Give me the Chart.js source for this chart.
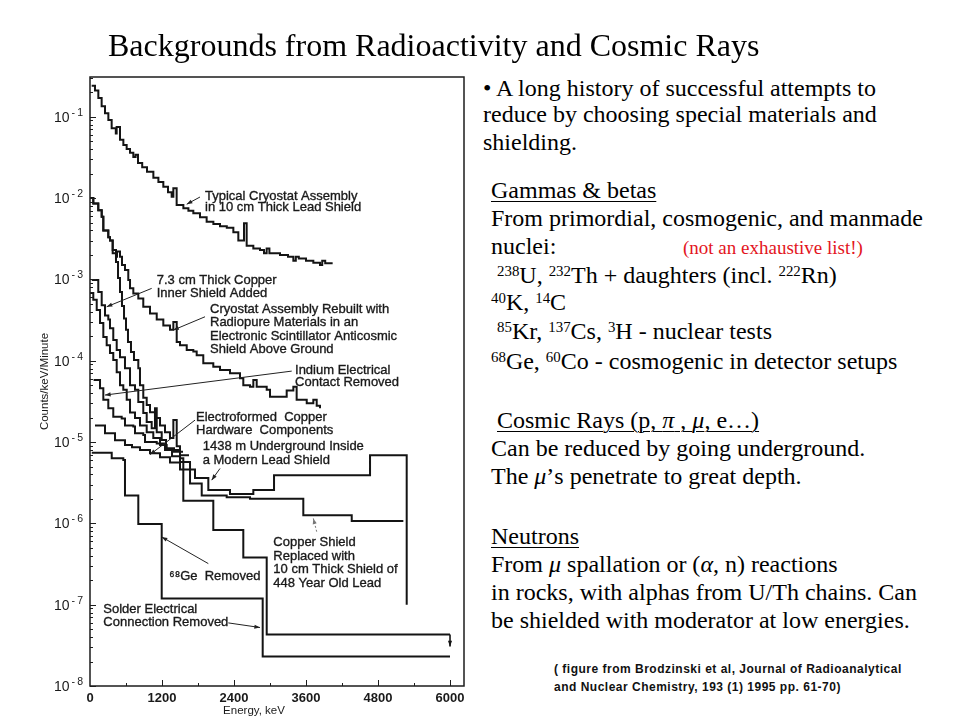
<!DOCTYPE html>
<html>
<head>
<meta charset="utf-8">
<script src="https://cdn.jsdelivr.net/npm/chart.js@4.4.0/dist/chart.umd.min.js"></script>
<style>
body{margin:0;width:960px;height:720px;background:#fff;position:relative;overflow:hidden;color:#000;font-family:"Liberation Serif","Times New Roman",serif}
#chartBox{position:absolute;left:0;top:0;width:475px;height:720px}
.ln{position:absolute;white-space:nowrap;font-size:24px;line-height:28px}
.title{font-size:32px;line-height:38px}
.red{color:#e3151d;font-size:19px}
.u{text-decoration:underline;text-decoration-thickness:1px;text-underline-offset:3px}
sup{font-size:62%;position:relative;top:-0.45em;vertical-align:baseline;line-height:0}
.cite{position:absolute;white-space:nowrap;font-family:"Liberation Sans",Arial,sans-serif;font-weight:bold;font-size:12px;letter-spacing:0.5px;line-height:18px;color:#111}
</style>
</head>
<body>
<div id="chartBox"><canvas id="spectra"></canvas></div>

<div class="ln title" style="left:108px;top:26px">Backgrounds from Radioactivity and Cosmic Rays</div>

<div class="ln" style="left:483px;top:74px">• A long history of successful attempts to</div>
<div class="ln" style="left:483px;top:100px">reduce by choosing special materials and</div>
<div class="ln" style="left:483px;top:128px">shielding.</div>

<div class="ln u" style="left:491px;top:176px">Gammas &amp; betas</div>
<div class="ln" style="left:491px;top:204px">From primordial, cosmogenic, and manmade</div>
<div class="ln" style="left:491px;top:232px">nuclei:</div>
<div class="ln red" style="left:683px;top:234px">(not an exhaustive list!)</div>
<div class="ln" style="left:491px;top:261px">&nbsp;<sup>238</sup>U, <sup>232</sup>Th + daughters (incl. <sup>222</sup>Rn)</div>
<div class="ln" style="left:491px;top:288px"><sup>40</sup>K, <sup>14</sup>C</div>
<div class="ln" style="left:491px;top:317px">&nbsp;<sup>85</sup>Kr, <sup>137</sup>Cs, <sup>3</sup>H - nuclear tests</div>
<div class="ln" style="left:491px;top:347px"><sup>68</sup>Ge, <sup>60</sup>Co - cosmogenic in detector setups</div>

<div class="ln" style="left:491px;top:406px">&nbsp;<span class="u">Cosmic Rays (p, <i>π</i> , <i>μ</i>, e…)</span></div>
<div class="ln" style="left:491px;top:434px">Can be reduced by going underground.</div>
<div class="ln" style="left:491px;top:462px">The <i>μ</i>’s penetrate to great depth.</div>

<div class="ln u" style="left:491px;top:522px">Neutrons</div>
<div class="ln" style="left:491px;top:550px">From <i>μ</i> spallation or (<i>α</i>, n) reactions</div>
<div class="ln" style="left:491px;top:578px">in rocks, with alphas from U/Th chains. Can</div>
<div class="ln" style="left:491px;top:606px">be shielded with moderator at low energies.</div>

<div class="cite" style="left:554px;top:660px">( figure from Brodzinski et al, Journal of Radioanalytical</div>
<div class="cite" style="left:554px;top:678px">and Nuclear Chemistry, 193 (1) 1995 pp. 61-70)</div>

<script>
// spectra: bin start energy (keV) and counts/keV/minute

const typicalEnergy = [28, 83, 139, 194, 250, 306, 361, 430, 444, 500, 556, 611, 667, 722, 760, 800, 870, 950, 1056, 1140,
	1222, 1300, 1361, 1389, 1444, 1556, 1640, 1722, 1833, 1944, 2056, 2167, 2280, 2389, 2472, 2567, 2611, 2722, 2833, 2900,
	2944, 2990, 3167, 3300, 3389, 3430, 3480, 3600, 3722, 3833, 3870, 3920, 4044];
const typicalCounts = [0.24, 0.21, 0.17, 0.135, 0.11, 0.091, 0.072, 0.062, 0.075, 0.052, 0.045, 0.040, 0.036, 0.032, 0.034, 0.027, 0.024, 0.021, 0.0178, 0.0158,
	0.0138, 0.0118, 0.0104, 0.0132, 0.0082, 0.0075, 0.0070, 0.0065, 0.0058, 0.0051, 0.0048, 0.0045, 0.0043, 0.0038, 0.0030, 0.0049, 0.0026, 0.0024, 0.0023, 0.0021,
	0.0024, 0.0021, 0.0020, 0.0019, 0.0017, 0.0019, 0.0018, 0.0017, 0.0016, 0.0015, 0.0017, 0.00158, 0.00158];

const rebuiltEnergy = [0, 55, 138, 195, 222, 305, 333, 378, 433, 450, 500, 533, 583, 638, 667, 722, 805, 888, 1000, 1112,
	1222, 1333, 1389, 1445, 1500, 1612, 1722, 1778, 1888, 2055, 2167, 2333, 2500, 2555, 2667, 2722, 2778, 2945, 3000, 3167,
	3278, 3389, 3444, 3612, 3722, 3778, 3833];
const rebuiltCounts = [1.0e-2, 8.6e-3, 7.1e-3, 5.9e-3, 4.0e-3, 3.3e-3, 3.0e-3, 2.3e-3, 1.9e-3, 2.2e-3, 1.9e-3, 1.5e-3, 1.3e-3, 9.8e-4, 7.8e-4, 6.7e-4, 5.8e-4, 4.6e-4, 3.8e-4, 3.2e-4,
	2.7e-4, 2.4e-4, 3.0e-4, 1.7e-4, 1.55e-4, 1.35e-4, 1.3e-4, 1.17e-4, 9.3e-5, 8.4e-5, 7.7e-5, 7.0e-5, 6.1e-5, 5.0e-5, 4.8e-5, 5.8e-5, 4.8e-5, 4.4e-5, 3.6e-5, 3.6e-5,
	4.3e-5, 4.8e-5, 3.3e-5, 3.0e-5, 3.3e-5, 2.8e-5, 2.6e-5];

// steep one, ends with the upper limit arrow at 6000 keV
const limitEnergy = [0, 55, 138, 195, 222, 305, 333, 378, 433, 467, 500, 533, 567, 600, 633, 683, 733, 805, 833, 888,
	945, 1000, 1083, 1167, 1250, 1333, 1389, 1445, 1500, 1555, 2055, 2555, 2945, 6000];
const limitCounts = [1.0e-2, 8.6e-3, 7.1e-3, 5.9e-3, 4.0e-3, 3.3e-3, 3.0e-3, 2.1e-3, 1.63e-3, 1.04e-3, 7.0e-4, 4.7e-4, 3.3e-4, 2.4e-4, 1.7e-4, 1.28e-4, 1.02e-4, 8.1e-5, 5.0e-5, 3.5e-5,
	2.85e-5, 2.33e-5, 1.97e-5, 1.6e-5, 1.32e-5, 1.12e-5, 1.86e-5, 8.9e-6, 6.3e-6, 1.9e-6, 8.3e-7, 3.8e-7, 4.3e-8, 4.3e-8];

const oldLeadEnergy = [30, 138, 195, 250, 305, 333, 388, 445, 500, 583, 667, 750, 805, 888, 945, 1028, 1083, 1112, 1195, 1267,
	1367, 1500, 1667, 1862, 2278, 2667, 3555, 4362, 5222];
const oldLeadCounts = [9.8e-4, 7.0e-4, 4.8e-4, 3.6e-4, 3.2e-4, 2.5e-4, 1.8e-4, 1.35e-4, 1.1e-4, 8.1e-5, 5.0e-5, 4.4e-5, 3.1e-5, 2.27e-5, 1.76e-5, 1.48e-5, 2.6e-5, 1.32e-5, 1.06e-5, 8.0e-6,
	6.7e-6, 5.7e-6, 3.1e-6, 2.2e-6, 2.1e-6, 2.0e-6, 1.26e-6, 1.07e-6, 1.07e-6];

const copperEnergy = [0, 55, 112, 167, 222, 278, 333, 388, 445, 500, 555, 612, 667, 750, 833, 945, 1055, 1167, 1278, 1400, 1550];
const copperCounts = [6.8e-4, 5.6e-4, 4.2e-4, 2.9e-4, 1.95e-4, 1.55e-4, 1.24e-4, 1.02e-4, 7.2e-5, 5.0e-5, 4.4e-5, 3.3e-5, 2.3e-5, 1.97e-5, 1.6e-5, 1.32e-5, 1.12e-5, 9.2e-6, 8.4e-6, 7.6e-6, 7.6e-6];

const indiumEnergy = [60, 167, 222, 305, 388, 528, 583, 722, 750, 888, 917, 1112, 1250, 1500, 1650];
const indiumCounts = [5.8e-5, 4.6e-5, 3.3e-5, 2.6e-5, 2.04e-5, 1.95e-5, 1.6e-5, 1.55e-5, 1.28e-5, 1.22e-5, 1.0e-5, 9.6e-6, 8.0e-6, 6.9e-6, 6.9e-6];

const undergroundEnergy = [83, 250, 417, 583, 700, 833, 1000, 1167, 1333, 1500, 1750, 1972, 2333, 2722, 3067, 4667, 5278];
const undergroundCounts = [1.6e-5, 1.28e-5, 1.05e-5, 9.2e-6, 8.6e-6, 8.0e-6, 7.3e-6, 6.5e-6, 5.6e-6, 4.6e-6, 3.6e-6, 2.57e-6, 2.3e-6, 2.57e-6, 3.9e-6, 6.9e-6, 1.0e-7];

const germaniumEnergy = [30, 362, 555, 583, 805, 1195, 2878, 6000];
const germaniumCounts = [7.4e-6, 6.3e-6, 6.0e-6, 2.2e-6, 9.8e-7, 1.19e-7, 2.3e-8, 2.3e-8];

const energyTicks = [0, 1200, 2400, 3600, 4800, 6000];
const decadeExponents = [-8, -7, -6, -5, -4, -3, -2, -1];

// labels on the plot, placed in keV / counts
const notes = [
	{text: ['Typical Cryostat Assembly', 'in 10 cm Thick Lead Shield'], at: [1917, 1.06e-2], from: [1833, 1.03e-2], to: [1612, 8.4e-3], lh: 11.5},
	{text: ['7.3 cm Thick Copper', 'Inner Shield Added'], at: [1112, 9.6e-4], from: [1028, 7.75e-4], to: [278, 4.6e-4], lh: 12.7},
	{text: ['Cryostat Assembly Rebuilt with', 'Radiopure Materials in an', 'Electronic Scintillator Anticosmic', 'Shield Above Ground'], at: [2000, 4.28e-4], from: [1917, 3.47e-4], to: [1388, 2.38e-4], lh: 13.3},
	{text: ['Indium Electrical', 'Contact Removed'], at: [3417, 7.66e-5], from: [3362, 7.45e-5], to: [250, 3.78e-5], lh: 12.7},
	{text: ['Electroformed  Copper', 'Hardware  Components'], at: [1767, 1.99e-5], from: [1750, 1.86e-5], to: [1000, 7.0e-6], lh: 13},
	{text: ['1438 m Underground Inside', 'a Modern Lead Shield'], at: [1878, 8.9e-6], from: [2167, 4.73e-6], to: [2028, 3.4e-6], lh: 14},
	{text: ['Copper Shield', 'Replaced with', '10 cm Thick Shield of', '448 Year Old Lead'], at: [3055, 5.75e-7], from: [3778, 7.9e-7], to: [3722, 1.15e-6], lh: 13.5, faint: true},
	{text: ['\u2076\u2078Ge  Removed'], at: [1322, 2.24e-7], from: [1972, 3.2e-7], to: [1195, 6.8e-7], lh: 13},
	{text: ['Solder Electrical', 'Connection Removed'], at: [222, 8.7e-8], from: [2305, 5.97e-8], to: [2833, 5.24e-8], lh: 13.3}
];

const SANS = '"Liberation Sans", Arial, sans-serif';

function isDecade(v) {
	const l = Math.log10(v);
	return Math.abs(l - Math.round(l)) < 1e-6;
}

function series(energy, counts) {
	return {
		data: energy.map((e, i) => ({x: e, y: counts[i]})),
		stepped: true,
		borderColor: '#141414',
		borderWidth: 2,
		pointRadius: 0,
		fill: false,
		borderJoinStyle: 'miter',
		borderCapStyle: 'butt'
	};
}

function arrow(ctx, x1, y1, x2, y2, size) {
	const a = Math.atan2(y2 - y1, x2 - x1);
	ctx.beginPath();
	ctx.moveTo(x1, y1);
	ctx.lineTo(x2, y2);
	ctx.stroke();
	ctx.beginPath();
	ctx.moveTo(x2, y2);
	ctx.lineTo(x2 - size * Math.cos(a - 0.35), y2 - size * Math.sin(a - 0.35));
	ctx.lineTo(x2 - size * Math.cos(a + 0.35), y2 - size * Math.sin(a + 0.35));
	ctx.closePath();
	ctx.fill();
}

//frame, inner ticks, decade labels, notes and arrows

const figurePlugin = {
	id: 'figure',
	afterDatasetsDraw(chart) {
		const {ctx, chartArea: a, scales: {x, y}} = chart;
		ctx.save();
		ctx.strokeStyle = '#1d1d1d';
		ctx.lineWidth = 1.5;
		ctx.strokeRect(a.left, a.top, a.right - a.left, a.bottom - a.top);

		ctx.lineWidth = 1;
		y.ticks.forEach(t => {
			const py = Math.round(y.getPixelForValue(t.value)) + 0.5;
			ctx.beginPath();
			ctx.moveTo(a.left, py);
			ctx.lineTo(a.left + (isDecade(t.value) ? 6 : 3), py);
			ctx.stroke();
		});
		for (let e = 600; e <= 6000; e += 600) {
			const px = Math.round(x.getPixelForValue(e)) + 0.5;
			ctx.beginPath();
			ctx.moveTo(px, a.bottom);
			ctx.lineTo(px, a.bottom - (e % 1200 === 0 ? 6 : 3));
			ctx.stroke();
		}

		// decade labels 10^-n with a raised exponent
		ctx.fillStyle = '#1a1a1a';
		ctx.textAlign = 'right';
		ctx.textBaseline = 'middle';
		decadeExponents.forEach(e => {
			const py = y.getPixelForValue(Math.pow(10, e));
			const sup = '-\u2009' + Math.abs(e);
			ctx.font = '10.5px ' + SANS;
			const w = ctx.measureText(sup).width;
			ctx.fillText(sup, a.left - 7, py - 4);
			ctx.font = '14px ' + SANS;
			ctx.fillText('10', a.left - 9 - w, py + 1);
		});
		ctx.textAlign = 'left';

		// upper limit arrow on the last bin
		const last = chart.getDatasetMeta(2).data[limitEnergy.length - 1];
		ctx.fillStyle = '#141414';
		ctx.strokeStyle = '#141414';
		ctx.lineWidth = 1.6;
		arrow(ctx, last.x, last.y, last.x, last.y + 12, 6);

		ctx.font = '13px ' + SANS;
		notes.forEach(n => {
			const px = x.getPixelForValue(n.at[0]);
			const py = y.getPixelForValue(n.at[1]);
			ctx.fillStyle = '#1a1a1a';
			ctx.strokeStyle = '#1a1a1a';
			ctx.lineWidth = 0.35;
			n.text.forEach((line, i) => {
				ctx.fillText(line, px, py + i * n.lh);
				ctx.strokeText(line, px, py + i * n.lh);
			});
			ctx.lineWidth = 1;
			ctx.strokeStyle = n.faint ? '#777' : '#222';
			ctx.fillStyle = n.faint ? '#777' : '#222';
			ctx.setLineDash(n.faint ? [2, 2] : []);
			arrow(ctx, x.getPixelForValue(n.from[0]), y.getPixelForValue(n.from[1]),
				x.getPixelForValue(n.to[0]), y.getPixelForValue(n.to[1]), 6);
			ctx.setLineDash([]);
		});

		ctx.fillStyle = '#1a1a1a';
		ctx.font = '11.5px ' + SANS;
		ctx.textAlign = 'center';
		ctx.fillText('Energy, keV', x.getPixelForValue(2733), 711);
		ctx.restore();
	}
};

const chart = new Chart(document.getElementById('spectra'), {
	type: 'line',
	data: {
		datasets: [
			series(typicalEnergy, typicalCounts),
			series(rebuiltEnergy, rebuiltCounts),
			series(limitEnergy, limitCounts),
			series(oldLeadEnergy, oldLeadCounts),
			series(copperEnergy, copperCounts),
			series(indiumEnergy, indiumCounts),
			series(undergroundEnergy, undergroundCounts),
			series(germaniumEnergy, germaniumCounts)
		]
	},
	options: {
		responsive: true,
		maintainAspectRatio: false,
		animation: false,
		layout: {padding: {left: 0, top: 77, right: 11, bottom: 0}},
		plugins: {legend: {display: false}, tooltip: {enabled: false}},
		scales: {
			x: {
				type: 'linear',
				min: 0,
				max: 6233,
				afterBuildTicks: s => { s.ticks = energyTicks.map(v => ({value: v})); },
				afterFit: s => { s.height = 34; },
				grid: {display: false, drawTicks: false},
				border: {display: false},
				ticks: {
					autoSkip: false,
					maxRotation: 0,
					padding: 5,
					color: '#1a1a1a',
					font: {family: SANS, size: 13, weight: 'bold'},
					callback: v => String(v)
				}
			},
			y: {
				type: 'logarithmic',
				min: 1e-8,
				max: 0.308,
				afterBuildTicks: s => {
					const t = [];
					decadeExponents.forEach(e => {
						for (let m = 1; m < 10; m++) {
							const v = m * Math.pow(10, e);
							if (v <= s.max) t.push({value: v});
						}
					});
					s.ticks = t;
				},
				afterFit: s => { s.width = 90; },
				grid: {display: false, drawTicks: false},
				border: {display: false},
				ticks: {
					autoSkip: false,
					display: false
				},
				title: {
					display: true,
					text: 'Counts/keV/Minute',
					color: '#1a1a1a',
					font: {family: SANS, size: 11.5},
					padding: {top: 38, bottom: 0}
				}
			}
		}
	},
	plugins: [figurePlugin]
});
</script>
</body>
</html>
